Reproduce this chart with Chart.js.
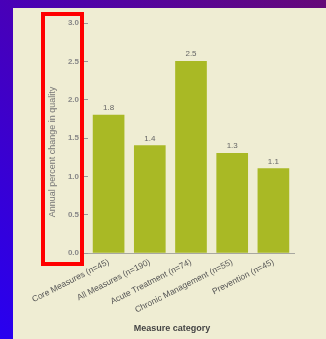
<!DOCTYPE html>
<html><head><meta charset="utf-8">
<script src="https://cdn.jsdelivr.net/npm/chart.js@4"></script>
<style>
html,body{margin:0;padding:0;}
body{width:326px;height:339px;overflow:hidden;position:relative;background:linear-gradient(to top right,#2800f0 0%,#4800b8 50%,#660878 100%);}
#panel{position:absolute;left:13px;top:8px;width:313px;height:331px;background:#efedd3;}
#wrap{position:absolute;left:0;top:0;width:326px;height:339px;}
#box{position:absolute;left:41px;top:12px;width:35px;height:246px;border:4px solid #ff0000;}
</style></head><body>
<div id="panel"></div>
<div id="wrap"><canvas id="c" width="326" height="339"></canvas></div>
<div id="box"></div>
<script>
const categories = ['Core Measures (n=45)', 'All Measures (n=190)', 'Acute Treatment (n=74)', 'Chronic Management (n=55)', 'Prevention (n=45)'];
const values = [1.8, 1.4, 2.5, 1.3, 1.1];
const yTicks = [0, 0.5, 1.0, 1.5, 2.0, 2.5, 3.0];
const xTitle = 'Measure category';
const yTitle = 'Annual percent change in quality';

const FONT = '"Liberation Sans", Arial, sans-serif';

const labelPlugin = {
  id: 'lbl',
  afterDatasetsDraw(chart) {
    const ctx = chart.ctx;
    const meta = chart.getDatasetMeta(0);
    ctx.save();
    ctx.font = '8px ' + FONT;
    ctx.fillStyle = '#666';
    ctx.textAlign = 'center';
    ctx.textBaseline = 'alphabetic';
    meta.data.forEach((bar, i) => ctx.fillText(values[i].toFixed(1), bar.x, bar.y - 5));
    ctx.font = 'bold 9px ' + FONT;
    ctx.fillStyle = '#444';
    ctx.textBaseline = 'middle';
    ctx.fillText(xTitle, 172, 329);
    ctx.translate(53, 152);
    ctx.rotate(-Math.PI / 2);
    ctx.font = '9px ' + FONT;
    ctx.fillStyle = '#777';
    ctx.fillText(yTitle, 0, 0);
    ctx.restore();
  }
};

new Chart(document.getElementById('c'), {
  type: 'bar',
  data: {
    labels: categories,
    datasets: [{
      data: values,
      backgroundColor: '#a9b925',
      borderWidth: 0,
      barThickness: 31
    }]
  },
  options: {
    responsive: false,
    animation: false,
    devicePixelRatio: 1,
    layout: { padding: { top: 23, right: 32, bottom: 0, left: 0 } },
    plugins: { legend: { display: false }, tooltip: { enabled: false } },
    scales: {
      x: {
        grid: { display: false, drawTicks: false },
        border: { display: true, color: '#a8a8a0', width: 1 },
        ticks: {
          autoSkip: false, maxRotation: 27, minRotation: 27, padding: 4,
          color: '#555', font: { family: FONT, size: 8.5 }
        },
        afterFit(s) { s.height = 86; }
      },
      y: {
        min: 0, max: 3,
        afterBuildTicks(s) { s.ticks = yTicks.map(v => ({ value: v })); },
        grid: { display: true, drawOnChartArea: false, drawTicks: true, tickLength: 4, color: '#999' },
        border: { display: false },
        ticks: {
          padding: 5, color: '#888', font: { family: FONT, size: 8, weight: 'bold' },
          callback: v => Number(v).toFixed(1)
        },
        afterFit(s) { s.width = 88; }
      }
    }
  },
  plugins: [labelPlugin]
});
</script>
</body></html>
